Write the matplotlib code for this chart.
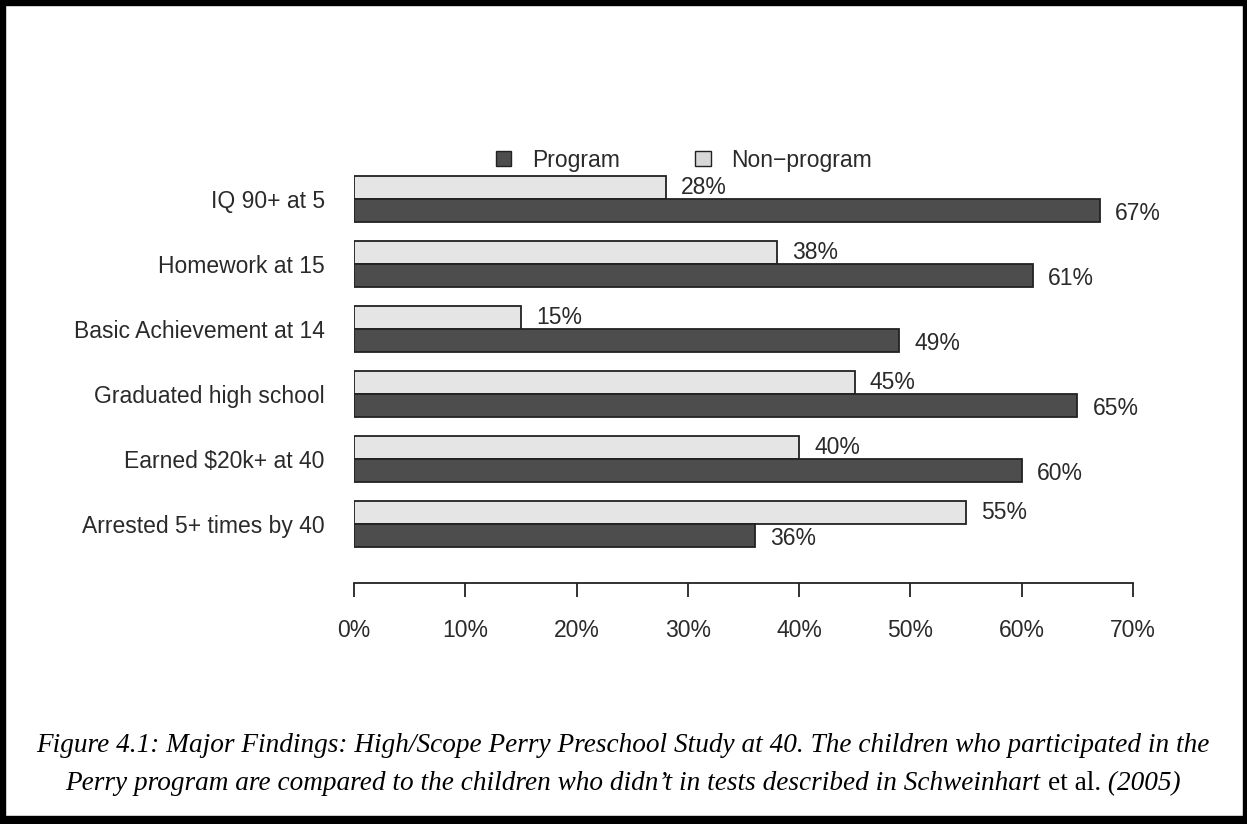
import matplotlib
matplotlib.use('Agg')
import matplotlib.pyplot as plt
from matplotlib.patches import Patch, Rectangle

# data
categories = ['IQ 90+ at 5', 'Homework at 15', 'Basic Achievement at 14',
              'Graduated high school', 'Earned $20k+ at 40', 'Arrested 5+ times by 40']
program = [67, 61, 49, 65, 60, 36]
non_program = [28, 38, 15, 45, 40, 55]
xticks = [0, 10, 20, 30, 40, 50, 60, 70]

W, H = 1247, 824
fig = plt.figure(figsize=(W / 100, H / 100), dpi=100)
fig.patch.set_facecolor('white')

# axes placed in pixel terms
left, right = 354, 1133
top, bottom = 160, 583
ax = fig.add_axes([left / W, 1 - bottom / H, (right - left) / W, (bottom - top) / H])

bh = 23 / 65
ypos = list(range(len(categories)))
y_np = [y - bh / 2 for y in ypos]
y_p = [y + bh / 2 for y in ypos]

ax.barh(y_np, non_program, height=bh, color='#e5e5e5', edgecolor='#222222', linewidth=1.3)
ax.barh(y_p, program, height=bh, color='#4d4d4d', edgecolor='#222222', linewidth=1.3)

for y, v in zip(y_np, non_program):
    ax.text(v + 1.35, y, f'{v}%', va='center', ha='left', fontsize=16.5,
            family='Liberation Sans', color='#2a2a2a')
for y, v in zip(y_p, program):
    ax.text(v + 1.35, y + 0.05, f'{v}%', va='center', ha='left', fontsize=16.5,
            family='Liberation Sans', color='#2a2a2a')

ax.set_xlim(0, 70)
ax.set_ylim((583 - 199) / 65, (160 - 199) / 65)

ax.set_yticks(ypos)
ax.set_yticklabels(categories, fontsize=16.5, family='Liberation Sans', color='#2a2a2a')
ax.tick_params(axis='y', length=0, pad=21)

ax.set_xticks(xticks)
ax.set_xticklabels([f'{t}%' for t in xticks], fontsize=16.5, family='Liberation Sans',
                   color='#2a2a2a')
ax.tick_params(axis='x', length=10, width=1.3, pad=16, color='#222222')

for s in ['top', 'right', 'left']:
    ax.spines[s].set_visible(False)
ax.spines['bottom'].set_bounds(0, 70)
ax.spines['bottom'].set_linewidth(1.3)
ax.spines['bottom'].set_color('#222222')

# legend
handles = [Patch(facecolor='#4d4d4d', edgecolor='#222222', label='Program'),
           Patch(facecolor='#d8d8d8', edgecolor='#222222', label='Non\u2212program')]
leg = fig.legend(handles=handles, loc='center', bbox_to_anchor=(684 / W, 1 - 160 / H), ncol=2,
                 frameon=False, prop={'family': 'Liberation Sans', 'size': 16.5},
                 handlelength=0.68, handleheight=0.68, handletextpad=0.9, columnspacing=3.3)
for t in leg.get_texts():
    t.set_color('#2a2a2a')

# caption
cap_font = dict(family='Liberation Serif', fontsize=19.6, color='black')
fig.text(623 / W, 1 - 745 / H,
         'Figure 4.1: Major Findings: High/Scope Perry Preschool Study at 40. The children who participated in the',
         ha='center', va='center', style='italic', **cap_font)

parts = [('Perry program are compared to the children who didn\u2019t in tests described in Schweinhart ', 'italic'),
         ('et al.', 'normal'),
         (' (2005)', 'italic')]
fig.canvas.draw()
renderer = fig.canvas.get_renderer()
texts = []
widths = []
for s, st in parts:
    t = fig.text(0, 1 - 784 / H, s, ha='left', va='center', style=st, **cap_font)
    widths.append(t.get_window_extent(renderer).width)
    texts.append(t)
x0 = 623 - sum(widths) / 2
for t, w in zip(texts, widths):
    t.set_x(x0 / W)
    x0 += w

# black frame
for (x, y, w, h) in [(0, 0, 5, H), (0, 0, W, 5), (W - 4, 0, 4, H), (0, H - 8, W, 8)]:
    fig.patches.append(Rectangle((x / W, 1 - (y + h) / H), w / W, h / H,
                                 transform=fig.transFigure, color='black', zorder=10))

fig.savefig('out.png', dpi=100)
